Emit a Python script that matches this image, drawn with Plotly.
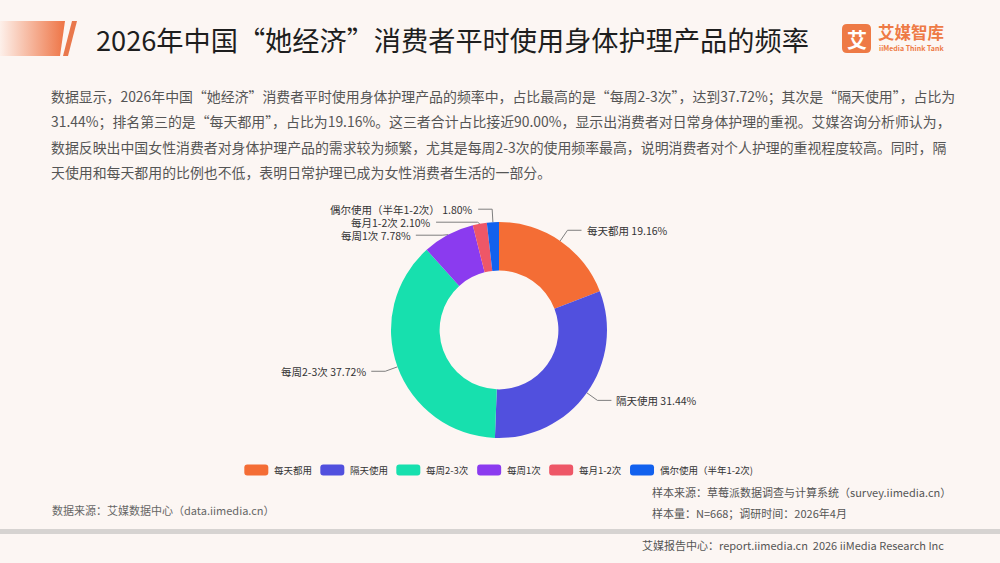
import math
import plotly.graph_objects as go

W, H = 1000, 563

# ---------------- data ----------------
categories = ["每天都用", "隔天使用", "每周2-3次", "每周1次", "每月1-2次", "偶尔使用（半年1-2次)"]
label_names = ["每天都用", "隔天使用", "每周2-3次", "每周1次", "每月1-2次", "偶尔使用（半年1-2次）"]
values = [19.16, 31.44, 37.72, 7.78, 2.10, 1.80]
colors = ["#F46D35", "#5150DE", "#17E0AE", "#8B3BEF", "#EE5767", "#1261EE"]

title = "2026年中国“她经济”消费者平时使用身体护理产品的频率"
para_lines = [
    "数据显示，2026年中国“她经济”消费者平时使用身体护理产品的频率中，占比最高的是“每周2-3次”，达到37.72%；其次是“隔天使用”，占比为",
    "31.44%；排名第三的是“每天都用”，占比为19.16%。这三者合计占比接近90.00%，显示出消费者对日常身体护理的重视。艾媒咨询分析师认为，",
    "数据反映出中国女性消费者对身体护理产品的需求较为频繁，尤其是每周2-3次的使用频率最高，说明消费者对个人护理的重视程度较高。同时，隔",
    "天使用和每天都用的比例也不低，表明日常护理已成为女性消费者生活的一部分。",
]
source_left = "数据来源：艾媒数据中心（data.iimedia.cn）"
source_right_1 = "样本来源：草莓派数据调查与计算系统（survey.iimedia.cn）"
source_right_2 = "样本量：N=668；调研时间：2026年4月"
footer = "艾媒报告中心：report.iimedia.cn  2026 iiMedia Research Inc"

FONT = "Noto Sans CJK SC, Noto Sans, sans-serif"
BG = "#FCF6F3"

# ---------------- geometry ----------------
cx, cy, R = 499, 330, 108
hole = 0.55

fig = go.Figure()

# header gradient bar
fig.add_trace(go.Scatter(
    x=[0, 65, 60, 0, 0], y=[21, 21, 56, 56, 21], mode="lines", fill="toself",
    line=dict(width=0), hoverinfo="skip", showlegend=False,
    fillgradient=dict(type="horizontal", colorscale=[[0, "#FDF0EA"], [1, "#EE7445"]]),
))
fig.add_shape(type="path", path="M 72 21 L 77 21 L 68 56 L 63 56 Z",
              fillcolor="#E9784C", line=dict(width=0), layer="above")

# donut
tot = sum(values)
fig.add_trace(go.Pie(
    labels=categories, values=values, sort=False, direction="clockwise", rotation=0,
    hole=hole, marker=dict(colors=colors, line=dict(width=0)), textinfo="none",
    hoverinfo="skip", showlegend=False,
    domain=dict(x=[(cx - R) / W, (cx + R) / W], y=[(H - cy - R) / H, (H - cy + R) / H]),
))

# leader lines & labels computed from data
Re = R + 13
L2 = 14
items = []
acc = 0.0
for name, v in zip(label_names, values):
    mid = (acc + v / 2) / tot * 2 * math.pi
    acc += v
    s, c = math.sin(mid), math.cos(mid)
    items.append(dict(name=name, v=v, s=s, c=c,
                      p0=(cx + R * s, cy - R * c),
                      ne=(cx + Re * s, cy - Re * c),
                      side=1 if s >= 0 else -1))
for side in (1, -1):
    grp = sorted([it for it in items if it["side"] == side], key=lambda it: it["ne"][1])
    last = -1e9
    for it in grp:
        y = max(it["ne"][1], last + 13)
        it["y"] = y
        it["moved"] = y - it["ne"][1] > 0.5
        last = y
for it in items:
    side = it["side"]
    ex = it["ne"][0]
    y = it["y"]
    end = ex + side * L2
    if it["moved"]:
        dy = cy - y
        alt = cx + side * (math.sqrt(max(Re * Re - dy * dy, 0)) + 8)
        end = min(end, alt) if side < 0 else max(end, alt)
    fig.add_trace(go.Scatter(
        x=[it["p0"][0], ex, end], y=[it["p0"][1], y, y], mode="lines",
        line=dict(color="#7F7F7F", width=1), hoverinfo="skip", showlegend=False,
    ))
    fig.add_annotation(x=end + side * 3, y=y, xref="x", yref="y",
                       text=f"{it['name']} {it['v']:.2f}%", showarrow=False,
                       xanchor="left" if side > 0 else "right", yanchor="middle",
                       font=dict(family=FONT, size=10.5, color="#333333"))

# ---------------- custom legend ----------------
def text_w(t, size):
    w = 0
    for ch in t:
        if ord(ch) > 0x2E80:
            w += size
        elif ch in "-()":
            w += size * 0.35
        else:
            w += size * 0.58
    return w

LS = 9.5
sw_w, sw_h = 24, 11
gap1, gap2 = 4, 10
widths = [sw_w + gap1 + text_w(cat, LS) for cat in categories]
total_w = sum(widths) + gap2 * (len(widths) - 1)
x0 = 498 - total_w / 2
ly = 470
for cat, col, wd in zip(categories, colors, widths):
    r = 3
    a, b = x0, x0 + sw_w
    t, u = ly - sw_h / 2, ly + sw_h / 2
    path = (f"M {a+r} {t} L {b-r} {t} Q {b} {t} {b} {t+r} L {b} {u-r} Q {b} {u} {b-r} {u} "
            f"L {a+r} {u} Q {a} {u} {a} {u-r} L {a} {t+r} Q {a} {t} {a+r} {t} Z")
    fig.add_shape(type="path", path=path, xref="x", yref="y", fillcolor=col, line=dict(width=0))
    fig.add_annotation(x=x0 + sw_w + gap1, y=ly, xref="x", yref="y", text=cat, showarrow=False,
                       xanchor="left", yanchor="middle", font=dict(family=FONT, size=LS, color="#333333"))
    x0 += wd + gap2

# ---------------- texts ----------------
def txt(x, y, t, size, color, anchor="left", weight="normal"):
    fig.add_annotation(x=x, y=y, xref="x", yref="y", text=t, showarrow=False,
                       xanchor=anchor, yanchor="middle",
                       font=dict(family=FONT, size=size, color=color, weight=weight))

txt(94, 39, title, 27.2, "#1E1E1E")
for i, line in enumerate(para_lines):
    txt(49, 96 + i * 25.3, line, 13.9, "#555555")

txt(50, 510, source_left, 11, "#666666")
txt(650, 492, source_right_1, 11, "#555555")
txt(650, 513, source_right_2, 11, "#555555")
txt(640, 545, footer, 11, "#555555")

# separator
fig.add_shape(type="rect", x0=0, x1=W, y0=529, y1=534, xref="x", yref="y",
              fillcolor="#D6D3D1", line=dict(width=0), layer="below")

# logo
fig.add_shape(type="path", xref="x", yref="y",
              path="M 847 24 L 866 24 Q 871 24 871 29 L 871 48 Q 871 53 866 53 L 847 53 Q 842 53 842 48 L 842 29 Q 842 24 847 24 Z",
              fillcolor="#EE7A45", line=dict(width=0))
txt(856.5, 39, "艾", 20, "#FFFFFF", anchor="center", weight="bold")
txt(876, 32, "艾媒智库", 16.5, "#EE7A45", weight="bold")
txt(877, 48, "iiMedia Think Tank", 7, "#EE7A45", weight="bold")

fig.update_layout(
    width=W, height=H, margin=dict(l=0, r=0, t=0, b=0),
    paper_bgcolor=BG, plot_bgcolor="rgba(0,0,0,0)",
    xaxis=dict(range=[0, W], visible=False, fixedrange=True),
    yaxis=dict(range=[H, 0], visible=False, fixedrange=True),
    showlegend=False, hovermode=False,
)

fig.write_html("out.html")
